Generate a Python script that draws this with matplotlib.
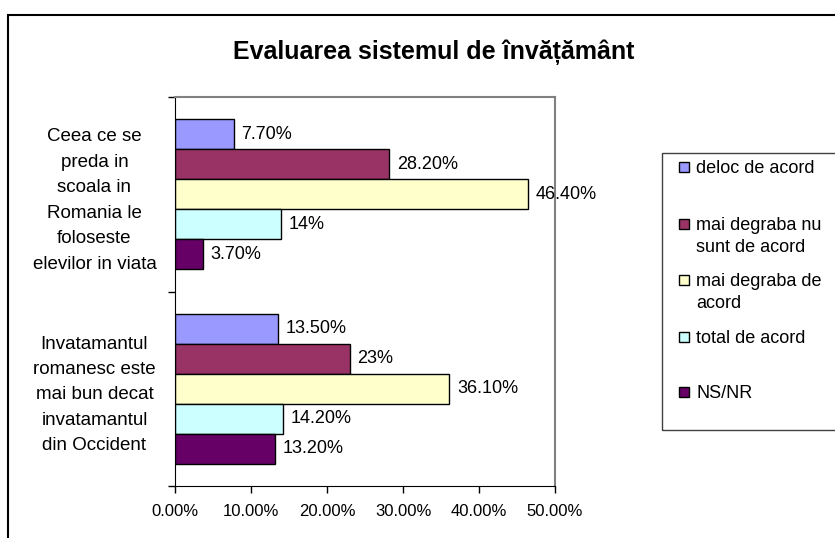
import numpy as np
import matplotlib
matplotlib.use("Agg")
import matplotlib.pyplot as plt
from matplotlib.patches import Rectangle

plt.rcParams['font.family'] = ['Liberation Sans', 'DejaVu Sans']

titlu = "Evaluarea sistemul de învățământ"
intrebari = [
    "Ceea ce se\npreda in\nscoala in\nRomania le\nfoloseste\nelevilor in viata",
    "Invatamantul\nromanesc este\nmai bun decat\ninvatamantul\ndin Occident",
]
raspunsuri = ["deloc de acord", "mai degraba nu\nsunt de acord",
              "mai degraba de\nacord", "total de acord", "NS/NR"]
# procente pe raspuns, cate o valoare pentru fiecare intrebare
deloc = [7.7, 13.5]
mai_degraba_nu = [28.2, 23.0]
mai_degraba_da = [46.4, 36.1]
total = [14.0, 14.2]
ns_nr = [3.7, 13.2]
culori = ['#9999FF', '#993366', '#FFFFCC', '#CCFFFF', '#660066']
xticks = [0, 10, 20, 30, 40, 50]

serii = [deloc, mai_degraba_nu, mai_degraba_da, total, ns_nr]


def eticheta(v):
    if float(v).is_integer():
        return f"{v:.0f}%"
    return f"{v:.2f}%"


fig = plt.figure(figsize=(8.35, 5.38), dpi=100)
ax = fig.add_axes([175 / 835, 1 - 486 / 538, 380 / 835, 389 / 538])

n = len(serii)
h = 0.77 / n
y0 = np.arange(len(intrebari))
for i, (vals, c) in enumerate(zip(serii, culori)):
    pos = y0 - 0.385 + h * (i + 0.5)
    ax.barh(pos, vals, height=h, color=c, edgecolor='black', linewidth=1.0)
    for p, v in zip(pos, vals):
        ax.annotate(eticheta(v), (v, p), xytext=(5.5, 0), textcoords='offset points',
                    va='center', ha='left', fontsize=13)

ax.set_xlim(0, 50)
ax.set_ylim(1.5, -0.5)
ax.set_xticks(xticks)
ax.set_xticklabels([f"{t:.2f}%" for t in xticks], fontsize=12)
ax.set_yticks(y0)
ax.set_yticklabels(intrebari, fontsize=13.5, ha='center', multialignment='center',
                   linespacing=1.65)
ax.tick_params(axis='y', which='major', length=0, pad=58)
ax.set_yticks([-0.5, 0.5, 1.5], minor=True)
ax.tick_params(axis='y', which='minor', length=5, width=1, direction='out')
ax.tick_params(axis='x', length=5, width=1, direction='out', pad=8)
for s in ['top', 'right']:
    ax.spines[s].set_color('#808080')
    ax.spines[s].set_linewidth(1.5)
ax.spines['left'].set_color('black')
ax.spines['bottom'].set_color('black')

fig.text(434 / 835, 1 - 52 / 538, titlu, ha='center', va='center',
         fontsize=18, fontweight='bold')

# legenda desenata manual (marcaj aliniat cu primul rand)
fig.patches.append(Rectangle((662 / 835, 1 - 430 / 538), 0.5, 277 / 538,
                             transform=fig.transFigure, facecolor='none',
                             edgecolor='#404040', linewidth=1.0))
leg_y = [167, 224, 280, 337, 392]
for lab, c, yy in zip(raspunsuri, culori, leg_y):
    fig.patches.append(Rectangle((679 / 835, 1 - (yy + 5) / 538), 10 / 835, 10 / 538,
                                 transform=fig.transFigure, facecolor=c,
                                 edgecolor='black', linewidth=1.0))
    for k, rand in enumerate(lab.split("\n")):
        fig.text(696 / 835, 1 - (yy + 6 + 22 * k) / 538, rand, ha='left',
                 va='baseline', fontsize=13)

# chenarul exterior
fig.patches.append(Rectangle((8 / 835, -0.1), 1.0, 1.1 - 15 / 538,
                             transform=fig.transFigure, facecolor='none',
                             edgecolor='black', linewidth=1.5))

fig.savefig("out.png", dpi=100)
